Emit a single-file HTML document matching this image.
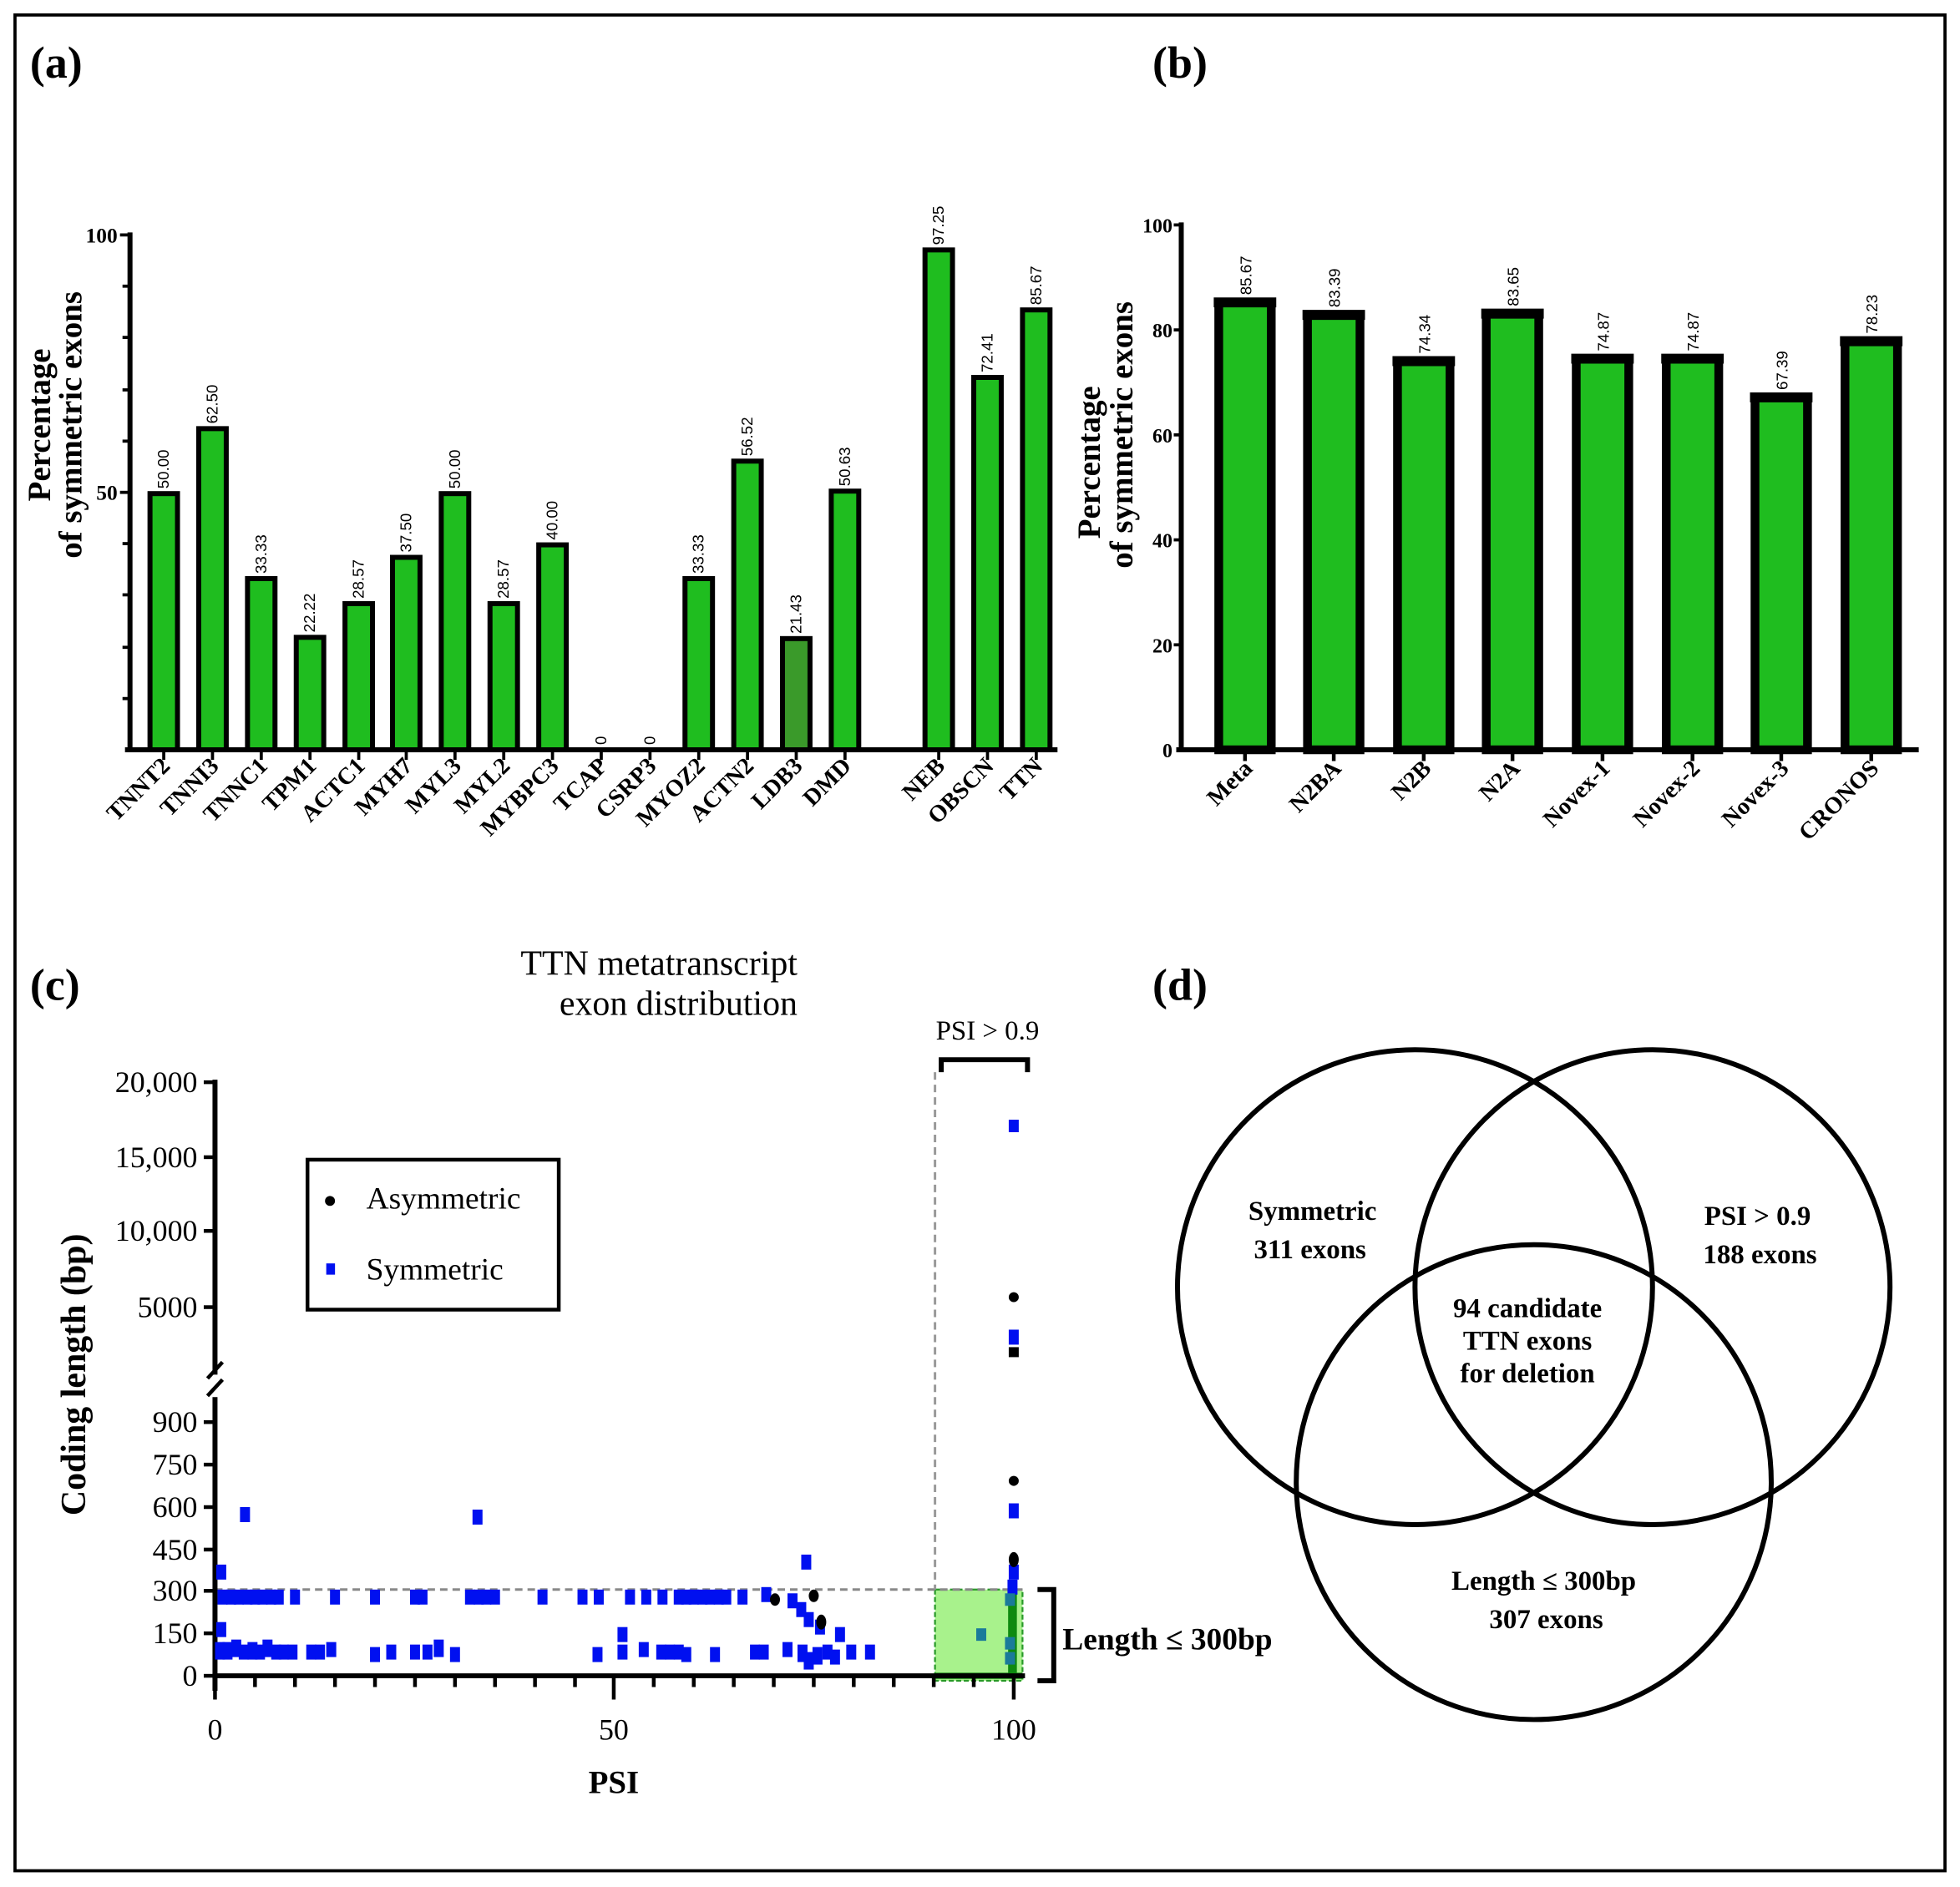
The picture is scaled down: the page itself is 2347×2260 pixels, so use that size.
<!DOCTYPE html>
<html><head><meta charset="utf-8"><style>
html,body{margin:0;padding:0;background:#fff}
svg{display:block}
.s{font-family:"Liberation Serif",serif;font-weight:bold}
.v{font-family:"Liberation Sans",sans-serif;font-size:12.5px}
</style></head><body>
<svg width="2347" height="2260" viewBox="0 0 1568 1510" preserveAspectRatio="none" xmlns="http://www.w3.org/2000/svg">
<rect x="12" y="12" width="1544" height="1485" fill="#fff" stroke="#000" stroke-width="2.5"/>
<text class="s" x="24" y="62" font-size="36">(a)</text>
<text class="s" x="922" y="62" font-size="36">(b)</text>
<text class="s" x="24" y="800" font-size="36">(c)</text>
<text class="s" x="922" y="800" font-size="36">(d)</text>

<!-- Panel a -->
<g>
<text class="s" font-size="26" transform="translate(40,340) rotate(-90)" text-anchor="middle">Percentage</text>
<text class="s" font-size="26" transform="translate(65,340) rotate(-90)" text-anchor="middle">of symmetric exons</text>
<line x1="104" y1="186" x2="104" y2="602" stroke="#000" stroke-width="4"/>
<line x1="100" y1="600" x2="846" y2="600" stroke="#000" stroke-width="4"/>
<g stroke="#000" stroke-width="2.5">
<line x1="96" y1="188" x2="104" y2="188"/><line x1="98" y1="229" x2="104" y2="229"/><line x1="98" y1="270" x2="104" y2="270"/><line x1="98" y1="312" x2="104" y2="312"/><line x1="98" y1="353" x2="104" y2="353"/><line x1="96" y1="394" x2="104" y2="394"/><line x1="98" y1="435" x2="104" y2="435"/><line x1="98" y1="476" x2="104" y2="476"/><line x1="98" y1="518" x2="104" y2="518"/><line x1="98" y1="559" x2="104" y2="559"/>
</g>
<text class="s" x="94" y="194" font-size="17" text-anchor="end">100</text>
<text class="s" x="94" y="400" font-size="17" text-anchor="end">50</text>
<g fill="#1fbd1f" stroke="#000" stroke-width="4">
<rect x="120" y="395" width="22" height="205"/>
<rect x="159" y="343" width="22" height="257"/>
<rect x="198" y="463" width="22" height="137"/>
<rect x="237" y="510" width="22" height="90"/>
<rect x="276" y="483" width="22" height="117"/>
<rect x="314" y="446" width="22" height="154"/>
<rect x="353" y="395" width="22" height="205"/>
<rect x="392" y="483" width="22" height="117"/>
<rect x="431" y="436" width="22" height="164"/>
<rect x="548" y="463" width="22" height="137"/>
<rect x="587" y="369" width="22" height="231"/>
<rect x="626" y="511" width="22" height="89" fill="#3a9a2a"/>
<rect x="665" y="393" width="22" height="207"/>
<rect x="740" y="200" width="22" height="400"/>
<rect x="779" y="302" width="22" height="298"/>
<rect x="818" y="248" width="22" height="352"/>
</g>
<g class="v">
<text transform="translate(135,391) rotate(-90)">50.00</text>
<text transform="translate(174,339) rotate(-90)">62.50</text>
<text transform="translate(213,459) rotate(-90)">33.33</text>
<text transform="translate(252,506) rotate(-90)">22.22</text>
<text transform="translate(291,479) rotate(-90)">28.57</text>
<text transform="translate(329,442) rotate(-90)">37.50</text>
<text transform="translate(368,391) rotate(-90)">50.00</text>
<text transform="translate(407,479) rotate(-90)">28.57</text>
<text transform="translate(446,432) rotate(-90)">40.00</text>
<text transform="translate(485,596) rotate(-90)">0</text>
<text transform="translate(524,596) rotate(-90)">0</text>
<text transform="translate(563,459) rotate(-90)">33.33</text>
<text transform="translate(602,365) rotate(-90)">56.52</text>
<text transform="translate(641,507) rotate(-90)">21.43</text>
<text transform="translate(680,389) rotate(-90)">50.63</text>
<text transform="translate(755,196) rotate(-90)">97.25</text>
<text transform="translate(794,298) rotate(-90)">72.41</text>
<text transform="translate(833,244) rotate(-90)">85.67</text>
</g>
<g stroke="#000" stroke-width="2.5">
<line x1="131" y1="600" x2="131" y2="608"/><line x1="170" y1="600" x2="170" y2="608"/><line x1="209" y1="600" x2="209" y2="608"/><line x1="248" y1="600" x2="248" y2="608"/><line x1="287" y1="600" x2="287" y2="608"/><line x1="325" y1="600" x2="325" y2="608"/><line x1="364" y1="600" x2="364" y2="608"/><line x1="403" y1="600" x2="403" y2="608"/><line x1="442" y1="600" x2="442" y2="608"/><line x1="481" y1="600" x2="481" y2="608"/><line x1="520" y1="600" x2="520" y2="608"/><line x1="559" y1="600" x2="559" y2="608"/><line x1="598" y1="600" x2="598" y2="608"/><line x1="637" y1="600" x2="637" y2="608"/><line x1="676" y1="600" x2="676" y2="608"/><line x1="751" y1="600" x2="751" y2="608"/><line x1="790" y1="600" x2="790" y2="608"/><line x1="829" y1="600" x2="829" y2="608"/>
</g>
<g class="s" font-size="19" text-anchor="end">
<text transform="translate(137,614) rotate(-45)">TNNT2</text>
<text transform="translate(176,614) rotate(-45)">TNNI3</text>
<text transform="translate(215,614) rotate(-45)">TNNC1</text>
<text transform="translate(254,614) rotate(-45)">TPM1</text>
<text transform="translate(293,614) rotate(-45)">ACTC1</text>
<text transform="translate(331,614) rotate(-45)">MYH7</text>
<text transform="translate(370,614) rotate(-45)">MYL3</text>
<text transform="translate(409,614) rotate(-45)">MYL2</text>
<text transform="translate(448,614) rotate(-45)">MYBPC3</text>
<text transform="translate(487,614) rotate(-45)">TCAP</text>
<text transform="translate(526,614) rotate(-45)">CSRP3</text>
<text transform="translate(565,614) rotate(-45)">MYOZ2</text>
<text transform="translate(604,614) rotate(-45)">ACTN2</text>
<text transform="translate(643,614) rotate(-45)">LDB3</text>
<text transform="translate(682,614) rotate(-45)">DMD</text>
<text transform="translate(757,614) rotate(-45)">NEB</text>
<text transform="translate(796,614) rotate(-45)">OBSCN</text>
<text transform="translate(835,614) rotate(-45)">TTN</text>
</g>
</g>

<!-- Panel b -->
<g>
<text class="s" font-size="26" transform="translate(880,370) rotate(-90)" text-anchor="middle">Percentage</text>
<text class="s" font-size="26" transform="translate(906,348) rotate(-90)" text-anchor="middle">of symmetric exons</text>
<line x1="945" y1="178" x2="945" y2="602" stroke="#000" stroke-width="4"/>
<line x1="941" y1="600" x2="1535" y2="600" stroke="#000" stroke-width="4"/>
<g stroke="#000" stroke-width="2.5">
<line x1="939" y1="180" x2="945" y2="180"/><line x1="939" y1="264" x2="945" y2="264"/><line x1="939" y1="348" x2="945" y2="348"/><line x1="939" y1="432" x2="945" y2="432"/><line x1="939" y1="516" x2="945" y2="516"/>
</g>
<g class="s" font-size="16" text-anchor="end">
<text x="938" y="186">100</text><text x="938" y="270">80</text><text x="938" y="354">60</text><text x="938" y="438">40</text><text x="938" y="522">20</text><text x="938" y="606">0</text>
</g>
<g fill="#1fbd1f" stroke="#000" stroke-width="7">
<rect x="975" y="242" width="42" height="358"/>
<rect x="1046" y="252" width="42" height="348"/>
<rect x="1118" y="289" width="42" height="311"/>
<rect x="1189" y="251" width="42" height="349"/>
<rect x="1261" y="287" width="42" height="313"/>
<rect x="1333" y="287" width="42" height="313"/>
<rect x="1404" y="318" width="42" height="282"/>
<rect x="1476" y="273" width="42" height="327"/>
</g>
<g stroke="#000" stroke-width="8">
<line x1="971" y1="242" x2="1021" y2="242"/><line x1="1042" y1="252" x2="1092" y2="252"/><line x1="1114" y1="289" x2="1164" y2="289"/><line x1="1185" y1="251" x2="1235" y2="251"/><line x1="1257" y1="287" x2="1307" y2="287"/><line x1="1329" y1="287" x2="1379" y2="287"/><line x1="1400" y1="318" x2="1450" y2="318"/><line x1="1472" y1="273" x2="1522" y2="273"/>
</g>
<g class="v">
<text transform="translate(1001,236) rotate(-90)">85.67</text>
<text transform="translate(1072,246) rotate(-90)">83.39</text>
<text transform="translate(1144,283) rotate(-90)">74.34</text>
<text transform="translate(1215,245) rotate(-90)">83.65</text>
<text transform="translate(1287,281) rotate(-90)">74.87</text>
<text transform="translate(1359,281) rotate(-90)">74.87</text>
<text transform="translate(1430,312) rotate(-90)">67.39</text>
<text transform="translate(1502,267) rotate(-90)">78.23</text>
</g>
<g stroke="#000" stroke-width="3">
<line x1="996" y1="600" x2="996" y2="609"/><line x1="1067" y1="600" x2="1067" y2="609"/><line x1="1139" y1="600" x2="1139" y2="609"/><line x1="1210" y1="600" x2="1210" y2="609"/><line x1="1282" y1="600" x2="1282" y2="609"/><line x1="1354" y1="600" x2="1354" y2="609"/><line x1="1425" y1="600" x2="1425" y2="609"/><line x1="1497" y1="600" x2="1497" y2="609"/>
</g>
<g class="s" font-size="19" text-anchor="end">
<text transform="translate(1003,616) rotate(-45)">Meta</text>
<text transform="translate(1074,616) rotate(-45)">N2BA</text>
<text transform="translate(1146,616) rotate(-45)">N2B</text>
<text transform="translate(1217,616) rotate(-45)">N2A</text>
<text transform="translate(1289,616) rotate(-45)">Novex-1</text>
<text transform="translate(1361,616) rotate(-45)">Novex-2</text>
<text transform="translate(1432,616) rotate(-45)">Novex-3</text>
<text transform="translate(1504,616) rotate(-45)">CRONOS</text>
</g>
</g>

<!-- Panel c -->
<g>
<text font-family="Liberation Serif,serif" font-size="28" x="638" y="780" text-anchor="end">TTN metatranscript</text>
<text font-family="Liberation Serif,serif" font-size="28" x="638" y="812" text-anchor="end">exon distribution</text>
<text font-family="Liberation Serif,serif" font-size="22" x="790" y="832" text-anchor="middle">PSI &gt; 0.9</text>
<path d="M753,858 V848 H822 V858" fill="none" stroke="#000" stroke-width="4"/>
<text class="s" font-size="28" transform="translate(68,1100) rotate(-90)" text-anchor="middle">Coding length (bp)</text>
<rect x="748" y="1272" width="70" height="73" fill="#a8f28c" stroke="#2a9a2a" stroke-width="1.5" stroke-dasharray="4,2"/>
<line x1="748" y1="1341" x2="818" y2="1341" stroke="#0e7a10" stroke-width="5"/>
<line x1="810" y1="1272" x2="810" y2="1341" stroke="#0e8a10" stroke-width="7"/>
<line x1="172" y1="1272" x2="818" y2="1272" stroke="#888" stroke-width="2" stroke-dasharray="6,4"/>
<line x1="748" y1="858" x2="748" y2="1272" stroke="#999" stroke-width="2" stroke-dasharray="6,4"/>
<line x1="172" y1="864" x2="172" y2="1100" stroke="#000" stroke-width="4"/>
<line x1="172" y1="1118" x2="172" y2="1353" stroke="#000" stroke-width="4"/>
<line x1="166" y1="1103" x2="178" y2="1090" stroke="#000" stroke-width="3"/>
<line x1="166" y1="1117" x2="178" y2="1104" stroke="#000" stroke-width="3"/>
<line x1="170" y1="1341" x2="820" y2="1341" stroke="#000" stroke-width="4"/>
<g stroke="#000" stroke-width="3">
<line x1="163" y1="866" x2="172" y2="866"/><line x1="163" y1="926" x2="172" y2="926"/><line x1="163" y1="985" x2="172" y2="985"/><line x1="163" y1="1046" x2="172" y2="1046"/>
<line x1="163" y1="1138" x2="172" y2="1138"/><line x1="163" y1="1172" x2="172" y2="1172"/><line x1="163" y1="1206" x2="172" y2="1206"/><line x1="163" y1="1240" x2="172" y2="1240"/><line x1="163" y1="1273" x2="172" y2="1273"/><line x1="163" y1="1307" x2="172" y2="1307"/><line x1="163" y1="1341" x2="172" y2="1341"/>
<line x1="172" y1="1341" x2="172" y2="1360"/><line x1="491" y1="1341" x2="491" y2="1360"/><line x1="811" y1="1341" x2="811" y2="1360"/>
<line x1="204" y1="1341" x2="204" y2="1350"/><line x1="236" y1="1341" x2="236" y2="1350"/><line x1="268" y1="1341" x2="268" y2="1350"/><line x1="300" y1="1341" x2="300" y2="1350"/><line x1="332" y1="1341" x2="332" y2="1350"/><line x1="364" y1="1341" x2="364" y2="1350"/><line x1="396" y1="1341" x2="396" y2="1350"/><line x1="428" y1="1341" x2="428" y2="1350"/><line x1="460" y1="1341" x2="460" y2="1350"/><line x1="523" y1="1341" x2="523" y2="1350"/><line x1="555" y1="1341" x2="555" y2="1350"/><line x1="587" y1="1341" x2="587" y2="1350"/><line x1="619" y1="1341" x2="619" y2="1350"/><line x1="651" y1="1341" x2="651" y2="1350"/><line x1="683" y1="1341" x2="683" y2="1350"/><line x1="715" y1="1341" x2="715" y2="1350"/><line x1="747" y1="1341" x2="747" y2="1350"/><line x1="779" y1="1341" x2="779" y2="1350"/>
</g>
<g font-family="Liberation Serif,serif" font-size="24" text-anchor="end">
<text x="158" y="874">20,000</text><text x="158" y="934">15,000</text><text x="158" y="993">10,000</text><text x="158" y="1054">5000</text>
<text x="158" y="1146">900</text><text x="158" y="1180">750</text><text x="158" y="1214">600</text><text x="158" y="1248">450</text><text x="158" y="1281">300</text><text x="158" y="1315">150</text><text x="158" y="1349">0</text>
</g>
<g font-family="Liberation Serif,serif" font-size="24" text-anchor="middle">
<text x="172" y="1392">0</text><text x="491" y="1392">50</text><text x="811" y="1392">100</text>
</g>
<text class="s" font-size="26" x="491" y="1435" text-anchor="middle">PSI</text>
<path d="M830,1272 H843 V1345 H830" fill="none" stroke="#000" stroke-width="4"/>
<text class="s" font-size="25" x="850" y="1320">Length ≤ 300bp</text>
<rect x="246" y="928" width="201" height="120" fill="#fff" stroke="#000" stroke-width="3"/>
<circle cx="264" cy="961" r="4" fill="#000"/>
<rect x="261" y="1011" width="7" height="9" fill="#0010f0"/>
<text font-family="Liberation Serif,serif" font-size="25" x="293" y="967">Asymmetric</text>
<text font-family="Liberation Serif,serif" font-size="25" x="293" y="1024">Symmetric</text>
<g fill="#0010f0">
<rect x="174" y="1272" width="8" height="12"/><rect x="181" y="1272" width="8" height="12"/><rect x="187" y="1272" width="8" height="12"/><rect x="194" y="1272" width="8" height="12"/><rect x="200" y="1272" width="8" height="12"/><rect x="206" y="1272" width="8" height="12"/><rect x="213" y="1272" width="8" height="12"/><rect x="219" y="1272" width="8" height="12"/><rect x="232" y="1272" width="8" height="12"/><rect x="264" y="1272" width="8" height="12"/><rect x="296" y="1272" width="8" height="12"/><rect x="328" y="1272" width="8" height="12"/><rect x="334" y="1272" width="8" height="12"/><rect x="372" y="1272" width="8" height="12"/><rect x="379" y="1272" width="8" height="12"/><rect x="385" y="1272" width="8" height="12"/><rect x="392" y="1272" width="8" height="12"/><rect x="430" y="1272" width="8" height="12"/><rect x="462" y="1272" width="8" height="12"/><rect x="475" y="1272" width="8" height="12"/><rect x="500" y="1272" width="8" height="12"/><rect x="513" y="1272" width="8" height="12"/><rect x="526" y="1272" width="8" height="12"/><rect x="539" y="1272" width="8" height="12"/><rect x="545" y="1272" width="8" height="12"/><rect x="551" y="1272" width="8" height="12"/><rect x="558" y="1272" width="8" height="12"/><rect x="564" y="1272" width="8" height="12"/><rect x="571" y="1272" width="8" height="12"/><rect x="577" y="1272" width="8" height="12"/><rect x="590" y="1272" width="8" height="12"/><rect x="609" y="1270" width="8" height="12"/><rect x="630" y="1275" width="8" height="12"/><rect x="637" y="1282" width="8" height="12"/>
<rect x="172" y="1314" width="8" height="14"/><rect x="178" y="1314" width="8" height="14"/><rect x="185" y="1312" width="8" height="14"/><rect x="191" y="1316" width="8" height="12"/><rect x="198" y="1314" width="8" height="14"/><rect x="204" y="1316" width="8" height="12"/><rect x="210" y="1312" width="8" height="14"/><rect x="217" y="1316" width="8" height="12"/><rect x="223" y="1316" width="8" height="12"/><rect x="230" y="1316" width="8" height="12"/><rect x="245" y="1316" width="8" height="12"/><rect x="252" y="1316" width="8" height="12"/><rect x="261" y="1314" width="8" height="12"/><rect x="296" y="1318" width="8" height="12"/><rect x="309" y="1316" width="8" height="12"/><rect x="328" y="1316" width="8" height="12"/><rect x="338" y="1316" width="8" height="12"/><rect x="347" y="1312" width="8" height="14"/><rect x="360" y="1318" width="8" height="12"/><rect x="474" y="1318" width="8" height="12"/><rect x="494" y="1302" width="8" height="12"/><rect x="494" y="1316" width="8" height="12"/><rect x="511" y="1314" width="8" height="12"/><rect x="525" y="1316" width="8" height="12"/><rect x="532" y="1316" width="8" height="12"/><rect x="539" y="1316" width="8" height="12"/><rect x="545" y="1318" width="8" height="12"/><rect x="568" y="1318" width="8" height="12"/><rect x="600" y="1316" width="8" height="12"/><rect x="607" y="1316" width="8" height="12"/><rect x="626" y="1314" width="8" height="12"/><rect x="638" y="1316" width="8" height="14"/><rect x="643" y="1322" width="8" height="14"/><rect x="650" y="1318" width="8" height="14"/><rect x="658" y="1316" width="8" height="12"/><rect x="664" y="1320" width="8" height="12"/><rect x="668" y="1302" width="8" height="12"/><rect x="677" y="1316" width="8" height="12"/><rect x="692" y="1316" width="8" height="12"/><rect x="643" y="1290" width="8" height="12"/>
<rect x="173" y="1252" width="8" height="12"/><rect x="173" y="1298" width="8" height="12"/><rect x="192" y="1206" width="8" height="12"/><rect x="378" y="1208" width="8" height="12"/><rect x="641" y="1244" width="8" height="12"/><rect x="652" y="1296" width="8" height="12"/>
<rect x="807" y="896" width="8" height="10"/><rect x="807" y="1064" width="8" height="12"/><rect x="807" y="1203" width="8" height="12"/><rect x="807" y="1252" width="8" height="12"/><rect x="806" y="1264" width="8" height="12"/>
</g>
<g fill="#1a7a9a"><rect x="781" y="1303" width="8" height="10"/><rect x="804" y="1275" width="8" height="10"/><rect x="804" y="1310" width="8" height="10"/><rect x="804" y="1322" width="8" height="10"/></g>
<g fill="#000">
<ellipse cx="620" cy="1280" rx="4" ry="5"/><ellipse cx="651" cy="1277" rx="4" ry="5"/><ellipse cx="657" cy="1298" rx="4" ry="6"/>
<circle cx="811" cy="1038" r="4"/><rect x="807" y="1078" width="8" height="8"/><circle cx="811" cy="1185" r="4"/><ellipse cx="811" cy="1248" rx="4" ry="6"/>
</g>
</g>

<!-- Panel d -->
<g fill="none" stroke="#000" stroke-width="4">
<circle cx="1132" cy="1030" r="190"/>
<circle cx="1322" cy="1030" r="190"/>
<circle cx="1227" cy="1186" r="190"/>
</g>
<g class="s" font-size="22" text-anchor="middle">
<text x="1050" y="976">Symmetric</text><text x="1048" y="1007">311 exons</text>
<text x="1406" y="980">PSI &gt; 0.9</text><text x="1408" y="1011">188 exons</text>
<text x="1222" y="1054">94 candidate</text><text x="1222" y="1080">TTN exons</text><text x="1222" y="1106">for deletion</text>
<text x="1235" y="1272">Length ≤ 300bp</text><text x="1237" y="1303">307 exons</text>
</g>
</svg>
</body></html>
